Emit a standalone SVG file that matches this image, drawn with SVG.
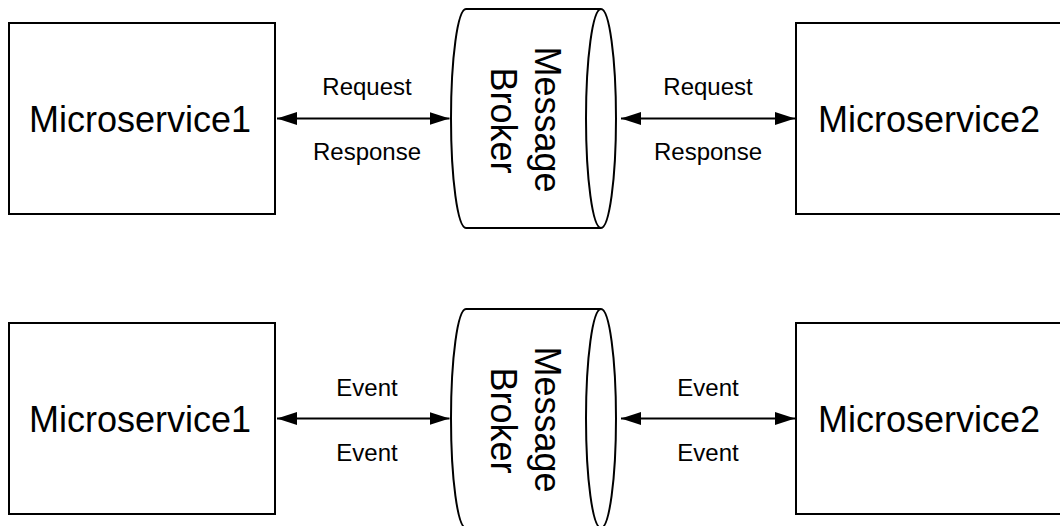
<svg xmlns="http://www.w3.org/2000/svg" width="1060" height="526" viewBox="0 0 1060 526">
  <defs>
    <style>
      .box { fill: #fff; stroke: #000; stroke-width: 2; }
      .cyl { fill: #fff; stroke: #000; stroke-width: 2; }
      .rim { fill: none; stroke: #000; stroke-width: 2; }
      .link { fill: none; stroke: #000; stroke-width: 2; marker-start: url(#head); marker-end: url(#head); }
      .title { font-family: "Liberation Sans", Arial, Helvetica, sans-serif; font-size: 36px; fill: #000; text-anchor: middle; }
      .label { font-family: "Liberation Sans", Arial, Helvetica, sans-serif; font-size: 24px; fill: #000; text-anchor: middle; }
    </style>
    <marker id="head" markerUnits="userSpaceOnUse" markerWidth="20" markerHeight="14" refX="20" refY="7" orient="auto-start-reverse">
      <path d="M0,0.5 L20,7 L0,13.5 Z" fill="#000"/>
    </marker>
  </defs>

  <!-- Request / response pattern -->
  <g id="rr-service1">
    <rect class="box" x="9" y="23" width="266" height="191"/>
    <text class="title" x="140" y="131.5">Microservice1</text>
  </g>
  <g id="rr-broker">
    <path class="cyl" d="M466,9 L601,9 A15,109.5 0 0 1 601,228 L466,228 A15,109.5 0 0 1 466,9 Z"/>
    <path class="rim" d="M601,9 A15,109.5 0 0 0 601,228"/>
    <text class="title" transform="translate(535,119.5) rotate(90)">Message</text>
    <text class="title" transform="translate(491,120.5) rotate(90)">Broker</text>
  </g>
  <g id="rr-service2">
    <rect class="box" x="796" y="23" width="266" height="191"/>
    <text class="title" x="929" y="131.5">Microservice2</text>
  </g>

  <!-- Event pattern -->
  <g id="ev-service1">
    <rect class="box" x="9" y="323" width="266" height="191"/>
    <text class="title" x="140" y="431.5">Microservice1</text>
  </g>
  <g id="ev-broker">
    <path class="cyl" d="M466,309 L601,309 A15,109.5 0 0 1 601,528 L466,528 A15,109.5 0 0 1 466,309 Z"/>
    <path class="rim" d="M601,309 A15,109.5 0 0 0 601,528"/>
    <text class="title" transform="translate(535,419.5) rotate(90)">Message</text>
    <text class="title" transform="translate(491,420.5) rotate(90)">Broker</text>
  </g>
  <g id="ev-service2">
    <rect class="box" x="796" y="323" width="266" height="191"/>
    <text class="title" x="929" y="431.5">Microservice2</text>
  </g>

  <!-- Connectors -->
  <g id="connectors">
    <line class="link" x1="277" y1="118.5" x2="449.5" y2="118.5"/>
    <line class="link" x1="621" y1="118.5" x2="795" y2="118.5"/>
    <line class="link" x1="277" y1="418.5" x2="449.5" y2="418.5"/>
    <line class="link" x1="621" y1="418.5" x2="795" y2="418.5"/>
    <text class="label" x="367" y="95">Request</text>
    <text class="label" x="367" y="159.5">Response</text>
    <text class="label" x="708" y="95">Request</text>
    <text class="label" x="708" y="159.5">Response</text>
    <text class="label" x="367" y="396">Event</text>
    <text class="label" x="367" y="460.5">Event</text>
    <text class="label" x="708" y="396">Event</text>
    <text class="label" x="708" y="460.5">Event</text>
  </g>
</svg>
